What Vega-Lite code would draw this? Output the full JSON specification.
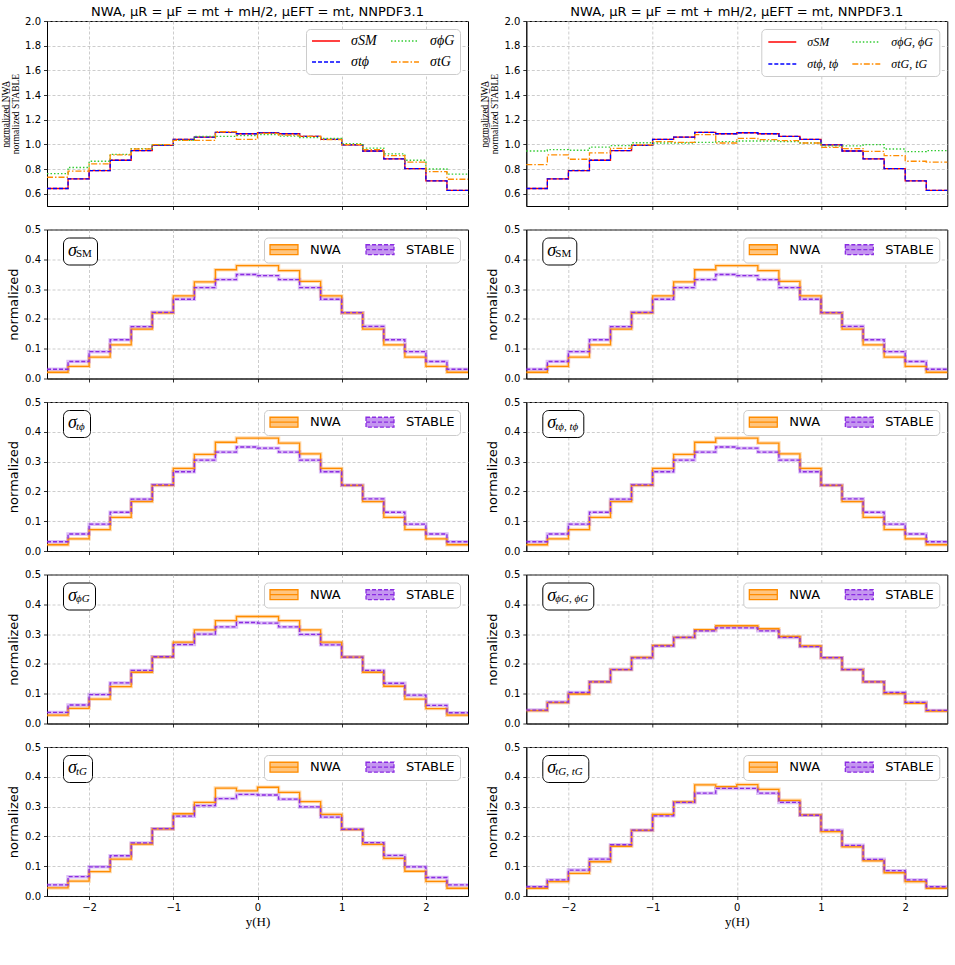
{
  "$schema": "https://vega.github.io/schema/vega-lite/v6.json",
  "background": "white",
  "padding": {"left": 0, "top": 5, "right": 5, "bottom": 5},
  "columns": 2,
  "spacing": {"row": 23.5, "column": 58.3},
  "bounds": "flush",
  "align": "each",
  "resolve": {"scale": {"color": "independent", "strokeDash": "independent", "fill": "independent", "shape": "independent", "x": "independent", "y": "independent"}},
  "config": {
    "font": "DejaVu Sans",
    "view": {"stroke": "#000000", "strokeWidth": 1},
    "axis": {
      "labelFont": "DejaVu Sans", "labelFontSize": 10, "labelColor": "#000000", "labelPadding": 3,
      "tickColor": "#000000", "tickSize": 3.5, "tickWidth": 0.8,
      "domainColor": "#000000", "domainWidth": 0.8,
      "gridColor": "#b0b0b0", "gridDash": [3, 2], "gridWidth": 0.8, "gridOpacity": 0.8,
      "titleFont": "DejaVu Sans", "titleFontSize": 13, "titleFontWeight": "normal", "titleColor": "#000000", "titlePadding": 4
    },
    "legend": {"labelColor": "#000000", "titleColor": "#000000", "labelLimit": 0},
    "title": {"font": "DejaVu Sans", "fontSize": 13, "fontWeight": "normal", "color": "#000000", "offset": -3}
  },
  "datasets": {
    "ratioL": [
      {"x": -2.5, "σSM": 0.642, "σtϕ": 0.642, "σϕG": 0.763, "σtG": 0.733},
      {"x": -2.25, "σSM": 0.720, "σtϕ": 0.720, "σϕG": 0.812, "σtG": 0.782},
      {"x": -2, "σSM": 0.787, "σtϕ": 0.787, "σϕG": 0.863, "σtG": 0.841},
      {"x": -1.75, "σSM": 0.871, "σtϕ": 0.871, "σϕG": 0.919, "σtG": 0.914},
      {"x": -1.5, "σSM": 0.949, "σtϕ": 0.949, "σϕG": 0.965, "σtG": 0.962},
      {"x": -1.25, "σSM": 0.992, "σtϕ": 0.992, "σϕG": 0.997, "σtG": 0.997},
      {"x": -1, "σSM": 1.040, "σtϕ": 1.040, "σϕG": 1.032, "σtG": 1.032},
      {"x": -0.75, "σSM": 1.059, "σtϕ": 1.059, "σϕG": 1.065, "σtG": 1.032},
      {"x": -0.5, "σSM": 1.097, "σtϕ": 1.097, "σϕG": 1.065, "σtG": 1.102},
      {"x": -0.25, "σSM": 1.086, "σtϕ": 1.086, "σϕG": 1.070, "σtG": 1.040},
      {"x": 0, "σSM": 1.094, "σtϕ": 1.094, "σϕG": 1.078, "σtG": 1.089},
      {"x": 0.25, "σSM": 1.086, "σtϕ": 1.086, "σϕG": 1.067, "σtG": 1.075},
      {"x": 0.5, "σSM": 1.065, "σtϕ": 1.065, "σϕG": 1.054, "σtG": 1.065},
      {"x": 0.75, "σSM": 1.040, "σtϕ": 1.040, "σϕG": 1.048, "σtG": 1.038},
      {"x": 1, "σSM": 0.995, "σtϕ": 0.995, "σϕG": 1.005, "σtG": 0.997},
      {"x": 1.25, "σSM": 0.946, "σtϕ": 0.946, "σϕG": 0.970, "σtG": 0.957},
      {"x": 1.5, "σSM": 0.882, "σtϕ": 0.882, "σϕG": 0.922, "σtG": 0.908},
      {"x": 1.75, "σSM": 0.803, "σtϕ": 0.803, "σϕG": 0.871, "σtG": 0.855},
      {"x": 2, "σSM": 0.704, "σtϕ": 0.704, "σϕG": 0.800, "σtG": 0.779},
      {"x": 2.25, "σSM": 0.626, "σtϕ": 0.626, "σϕG": 0.758, "σtG": 0.717},
      {"x": 2.5, "σSM": 0.626, "σtϕ": 0.626, "σϕG": 0.758, "σtG": 0.717}
    ],
    "ratioR": [
      {"x": -2.5, "σSM": 0.642, "σtϕ, tϕ": 0.642, "σϕG, ϕG": 0.946, "σtG, tG": 0.836},
      {"x": -2.25, "σSM": 0.720, "σtϕ, tϕ": 0.720, "σϕG, ϕG": 0.957, "σtG, tG": 0.914},
      {"x": -2, "σSM": 0.787, "σtϕ, tϕ": 0.787, "σϕG, ϕG": 0.952, "σtG, tG": 0.879},
      {"x": -1.75, "σSM": 0.871, "σtϕ, tϕ": 0.871, "σϕG, ϕG": 0.978, "σtG, tG": 0.930},
      {"x": -1.5, "σSM": 0.949, "σtϕ, tϕ": 0.949, "σϕG, ϕG": 0.989, "σtG, tG": 0.968},
      {"x": -1.25, "σSM": 0.992, "σtϕ, tϕ": 0.992, "σϕG, ϕG": 1.013, "σtG, tG": 0.995},
      {"x": -1, "σSM": 1.040, "σtϕ, tϕ": 1.040, "σϕG, ϕG": 1.011, "σtG, tG": 1.022},
      {"x": -0.75, "σSM": 1.059, "σtϕ, tϕ": 1.059, "σϕG, ϕG": 1.011, "σtG, tG": 1.016},
      {"x": -0.5, "σSM": 1.097, "σtϕ, tϕ": 1.097, "σϕG, ϕG": 1.016, "σtG, tG": 1.078},
      {"x": -0.25, "σSM": 1.086, "σtϕ, tϕ": 1.086, "σϕG, ϕG": 1.022, "σtG, tG": 1.011},
      {"x": 0, "σSM": 1.094, "σtϕ, tϕ": 1.094, "σϕG, ϕG": 1.027, "σtG, tG": 1.048},
      {"x": 0.25, "σSM": 1.086, "σtϕ, tϕ": 1.086, "σϕG, ϕG": 1.027, "σtG, tG": 1.038},
      {"x": 0.5, "σSM": 1.065, "σtϕ, tϕ": 1.065, "σϕG, ϕG": 1.022, "σtG, tG": 1.030},
      {"x": 0.75, "σSM": 1.040, "σtϕ, tϕ": 1.040, "σϕG, ϕG": 1.011, "σtG, tG": 1.011},
      {"x": 1, "σSM": 0.995, "σtϕ, tϕ": 0.995, "σϕG, ϕG": 0.987, "σtG, tG": 0.976},
      {"x": 1.25, "σSM": 0.946, "σtϕ, tϕ": 0.946, "σϕG, ϕG": 0.987, "σtG, tG": 0.965},
      {"x": 1.5, "σSM": 0.882, "σtϕ, tϕ": 0.882, "σϕG, ϕG": 0.997, "σtG, tG": 0.943},
      {"x": 1.75, "σSM": 0.803, "σtϕ, tϕ": 0.803, "σϕG, ϕG": 0.962, "σtG, tG": 0.908},
      {"x": 2, "σSM": 0.704, "σtϕ, tϕ": 0.704, "σϕG, ϕG": 0.941, "σtG, tG": 0.863},
      {"x": 2.25, "σSM": 0.626, "σtϕ, tϕ": 0.626, "σϕG, ϕG": 0.949, "σtG, tG": 0.855},
      {"x": 2.5, "σSM": 0.626, "σtϕ, tϕ": 0.626, "σϕG, ϕG": 0.949, "σtG, tG": 0.855}
    ],
    "dist": [
      {"p": "SM", "x": -2.5, "NWA": 0.021, "STABLE": 0.031},
      {"p": "SM", "x": -2.25, "NWA": 0.041, "STABLE": 0.057},
      {"p": "SM", "x": -2, "NWA": 0.072, "STABLE": 0.090},
      {"p": "SM", "x": -1.75, "NWA": 0.113, "STABLE": 0.130},
      {"p": "SM", "x": -1.5, "NWA": 0.166, "STABLE": 0.174},
      {"p": "SM", "x": -1.25, "NWA": 0.220, "STABLE": 0.222},
      {"p": "SM", "x": -1, "NWA": 0.277, "STABLE": 0.266},
      {"p": "SM", "x": -0.75, "NWA": 0.324, "STABLE": 0.305},
      {"p": "SM", "x": -0.5, "NWA": 0.365, "STABLE": 0.332},
      {"p": "SM", "x": -0.25, "NWA": 0.379, "STABLE": 0.349},
      {"p": "SM", "x": 0, "NWA": 0.379, "STABLE": 0.345},
      {"p": "SM", "x": 0.25, "NWA": 0.362, "STABLE": 0.332},
      {"p": "SM", "x": 0.5, "NWA": 0.326, "STABLE": 0.305},
      {"p": "SM", "x": 0.75, "NWA": 0.277, "STABLE": 0.266},
      {"p": "SM", "x": 1, "NWA": 0.220, "STABLE": 0.221},
      {"p": "SM", "x": 1.25, "NWA": 0.166, "STABLE": 0.175},
      {"p": "SM", "x": 1.5, "NWA": 0.113, "STABLE": 0.130},
      {"p": "SM", "x": 1.75, "NWA": 0.072, "STABLE": 0.090},
      {"p": "SM", "x": 2, "NWA": 0.041, "STABLE": 0.057},
      {"p": "SM", "x": 2.25, "NWA": 0.021, "STABLE": 0.031},
      {"p": "SM", "x": 2.5, "NWA": 0.021, "STABLE": 0.031},

      {"p": "tϕ", "x": -2.5, "NWA": 0.021, "STABLE": 0.031},
      {"p": "tϕ", "x": -2.25, "NWA": 0.041, "STABLE": 0.057},
      {"p": "tϕ", "x": -2, "NWA": 0.072, "STABLE": 0.090},
      {"p": "tϕ", "x": -1.75, "NWA": 0.113, "STABLE": 0.130},
      {"p": "tϕ", "x": -1.5, "NWA": 0.166, "STABLE": 0.174},
      {"p": "tϕ", "x": -1.25, "NWA": 0.220, "STABLE": 0.222},
      {"p": "tϕ", "x": -1, "NWA": 0.277, "STABLE": 0.266},
      {"p": "tϕ", "x": -0.75, "NWA": 0.324, "STABLE": 0.305},
      {"p": "tϕ", "x": -0.5, "NWA": 0.365, "STABLE": 0.332},
      {"p": "tϕ", "x": -0.25, "NWA": 0.379, "STABLE": 0.349},
      {"p": "tϕ", "x": 0, "NWA": 0.379, "STABLE": 0.345},
      {"p": "tϕ", "x": 0.25, "NWA": 0.362, "STABLE": 0.332},
      {"p": "tϕ", "x": 0.5, "NWA": 0.326, "STABLE": 0.305},
      {"p": "tϕ", "x": 0.75, "NWA": 0.277, "STABLE": 0.266},
      {"p": "tϕ", "x": 1, "NWA": 0.220, "STABLE": 0.221},
      {"p": "tϕ", "x": 1.25, "NWA": 0.166, "STABLE": 0.175},
      {"p": "tϕ", "x": 1.5, "NWA": 0.113, "STABLE": 0.130},
      {"p": "tϕ", "x": 1.75, "NWA": 0.072, "STABLE": 0.090},
      {"p": "tϕ", "x": 2, "NWA": 0.041, "STABLE": 0.057},
      {"p": "tϕ", "x": 2.25, "NWA": 0.021, "STABLE": 0.031},
      {"p": "tϕ", "x": 2.5, "NWA": 0.021, "STABLE": 0.031},

      {"p": "tϕ, tϕ", "x": -2.5, "NWA": 0.021, "STABLE": 0.031},
      {"p": "tϕ, tϕ", "x": -2.25, "NWA": 0.041, "STABLE": 0.057},
      {"p": "tϕ, tϕ", "x": -2, "NWA": 0.072, "STABLE": 0.090},
      {"p": "tϕ, tϕ", "x": -1.75, "NWA": 0.113, "STABLE": 0.130},
      {"p": "tϕ, tϕ", "x": -1.5, "NWA": 0.166, "STABLE": 0.174},
      {"p": "tϕ, tϕ", "x": -1.25, "NWA": 0.220, "STABLE": 0.222},
      {"p": "tϕ, tϕ", "x": -1, "NWA": 0.277, "STABLE": 0.266},
      {"p": "tϕ, tϕ", "x": -0.75, "NWA": 0.324, "STABLE": 0.305},
      {"p": "tϕ, tϕ", "x": -0.5, "NWA": 0.365, "STABLE": 0.332},
      {"p": "tϕ, tϕ", "x": -0.25, "NWA": 0.379, "STABLE": 0.349},
      {"p": "tϕ, tϕ", "x": 0, "NWA": 0.379, "STABLE": 0.345},
      {"p": "tϕ, tϕ", "x": 0.25, "NWA": 0.362, "STABLE": 0.332},
      {"p": "tϕ, tϕ", "x": 0.5, "NWA": 0.326, "STABLE": 0.305},
      {"p": "tϕ, tϕ", "x": 0.75, "NWA": 0.277, "STABLE": 0.266},
      {"p": "tϕ, tϕ", "x": 1, "NWA": 0.220, "STABLE": 0.221},
      {"p": "tϕ, tϕ", "x": 1.25, "NWA": 0.166, "STABLE": 0.175},
      {"p": "tϕ, tϕ", "x": 1.5, "NWA": 0.113, "STABLE": 0.130},
      {"p": "tϕ, tϕ", "x": 1.75, "NWA": 0.072, "STABLE": 0.090},
      {"p": "tϕ, tϕ", "x": 2, "NWA": 0.041, "STABLE": 0.057},
      {"p": "tϕ, tϕ", "x": 2.25, "NWA": 0.021, "STABLE": 0.031},
      {"p": "tϕ, tϕ", "x": 2.5, "NWA": 0.021, "STABLE": 0.031},

      {"p": "ϕG", "x": -2.5, "NWA": 0.028, "STABLE": 0.037},
      {"p": "ϕG", "x": -2.25, "NWA": 0.051, "STABLE": 0.062},
      {"p": "ϕG", "x": -2, "NWA": 0.082, "STABLE": 0.097},
      {"p": "ϕG", "x": -1.75, "NWA": 0.124, "STABLE": 0.136},
      {"p": "ϕG", "x": -1.5, "NWA": 0.172, "STABLE": 0.178},
      {"p": "ϕG", "x": -1.25, "NWA": 0.223, "STABLE": 0.224},
      {"p": "ϕG", "x": -1, "NWA": 0.273, "STABLE": 0.265},
      {"p": "ϕG", "x": -0.75, "NWA": 0.314, "STABLE": 0.300},
      {"p": "ϕG", "x": -0.5, "NWA": 0.345, "STABLE": 0.324},
      {"p": "ϕG", "x": -0.25, "NWA": 0.359, "STABLE": 0.339},
      {"p": "ϕG", "x": 0, "NWA": 0.359, "STABLE": 0.337},
      {"p": "ϕG", "x": 0.25, "NWA": 0.345, "STABLE": 0.324},
      {"p": "ϕG", "x": 0.5, "NWA": 0.314, "STABLE": 0.299},
      {"p": "ϕG", "x": 0.75, "NWA": 0.273, "STABLE": 0.264},
      {"p": "ϕG", "x": 1, "NWA": 0.223, "STABLE": 0.223},
      {"p": "ϕG", "x": 1.25, "NWA": 0.172, "STABLE": 0.178},
      {"p": "ϕG", "x": 1.5, "NWA": 0.125, "STABLE": 0.135},
      {"p": "ϕG", "x": 1.75, "NWA": 0.082, "STABLE": 0.095},
      {"p": "ϕG", "x": 2, "NWA": 0.050, "STABLE": 0.061},
      {"p": "ϕG", "x": 2.25, "NWA": 0.028, "STABLE": 0.036},
      {"p": "ϕG", "x": 2.5, "NWA": 0.028, "STABLE": 0.036},

      {"p": "ϕG, ϕG", "x": -2.5, "NWA": 0.043, "STABLE": 0.045},
      {"p": "ϕG, ϕG", "x": -2.25, "NWA": 0.070, "STABLE": 0.072},
      {"p": "ϕG, ϕG", "x": -2, "NWA": 0.099, "STABLE": 0.104},
      {"p": "ϕG, ϕG", "x": -1.75, "NWA": 0.140, "STABLE": 0.140},
      {"p": "ϕG, ϕG", "x": -1.5, "NWA": 0.181, "STABLE": 0.181},
      {"p": "ϕG, ϕG", "x": -1.25, "NWA": 0.222, "STABLE": 0.220},
      {"p": "ϕG, ϕG", "x": -1, "NWA": 0.262, "STABLE": 0.260},
      {"p": "ϕG, ϕG", "x": -0.75, "NWA": 0.289, "STABLE": 0.289},
      {"p": "ϕG, ϕG", "x": -0.5, "NWA": 0.315, "STABLE": 0.311},
      {"p": "ϕG, ϕG", "x": -0.25, "NWA": 0.328, "STABLE": 0.321},
      {"p": "ϕG, ϕG", "x": 0, "NWA": 0.328, "STABLE": 0.321},
      {"p": "ϕG, ϕG", "x": 0.25, "NWA": 0.318, "STABLE": 0.311},
      {"p": "ϕG, ϕG", "x": 0.5, "NWA": 0.292, "STABLE": 0.289},
      {"p": "ϕG, ϕG", "x": 0.75, "NWA": 0.260, "STABLE": 0.258},
      {"p": "ϕG, ϕG", "x": 1, "NWA": 0.221, "STABLE": 0.221},
      {"p": "ϕG, ϕG", "x": 1.25, "NWA": 0.181, "STABLE": 0.181},
      {"p": "ϕG, ϕG", "x": 1.5, "NWA": 0.140, "STABLE": 0.140},
      {"p": "ϕG, ϕG", "x": 1.75, "NWA": 0.100, "STABLE": 0.104},
      {"p": "ϕG, ϕG", "x": 2, "NWA": 0.068, "STABLE": 0.071},
      {"p": "ϕG, ϕG", "x": 2.25, "NWA": 0.042, "STABLE": 0.044},
      {"p": "ϕG, ϕG", "x": 2.5, "NWA": 0.042, "STABLE": 0.044},

      {"p": "tG", "x": -2.5, "NWA": 0.027, "STABLE": 0.037},
      {"p": "tG", "x": -2.25, "NWA": 0.050, "STABLE": 0.065},
      {"p": "tG", "x": -2, "NWA": 0.082, "STABLE": 0.098},
      {"p": "tG", "x": -1.75, "NWA": 0.124, "STABLE": 0.135},
      {"p": "tG", "x": -1.5, "NWA": 0.174, "STABLE": 0.178},
      {"p": "tG", "x": -1.25, "NWA": 0.225, "STABLE": 0.226},
      {"p": "tG", "x": -1, "NWA": 0.276, "STABLE": 0.268},
      {"p": "tG", "x": -0.75, "NWA": 0.314, "STABLE": 0.303},
      {"p": "tG", "x": -0.5, "NWA": 0.362, "STABLE": 0.327},
      {"p": "tG", "x": -0.25, "NWA": 0.353, "STABLE": 0.341},
      {"p": "tG", "x": 0, "NWA": 0.365, "STABLE": 0.339},
      {"p": "tG", "x": 0.25, "NWA": 0.348, "STABLE": 0.325},
      {"p": "tG", "x": 0.5, "NWA": 0.317, "STABLE": 0.299},
      {"p": "tG", "x": 0.75, "NWA": 0.274, "STABLE": 0.265},
      {"p": "tG", "x": 1, "NWA": 0.223, "STABLE": 0.224},
      {"p": "tG", "x": 1.25, "NWA": 0.173, "STABLE": 0.179},
      {"p": "tG", "x": 1.5, "NWA": 0.126, "STABLE": 0.136},
      {"p": "tG", "x": 1.75, "NWA": 0.083, "STABLE": 0.098},
      {"p": "tG", "x": 2, "NWA": 0.049, "STABLE": 0.062},
      {"p": "tG", "x": 2.25, "NWA": 0.026, "STABLE": 0.037},
      {"p": "tG", "x": 2.5, "NWA": 0.026, "STABLE": 0.037},

      {"p": "tG, tG", "x": -2.5, "NWA": 0.026, "STABLE": 0.031},
      {"p": "tG, tG", "x": -2.25, "NWA": 0.048, "STABLE": 0.054},
      {"p": "tG, tG", "x": -2, "NWA": 0.076, "STABLE": 0.087},
      {"p": "tG, tG", "x": -1.75, "NWA": 0.115, "STABLE": 0.124},
      {"p": "tG, tG", "x": -1.5, "NWA": 0.167, "STABLE": 0.172},
      {"p": "tG, tG", "x": -1.25, "NWA": 0.220, "STABLE": 0.221},
      {"p": "tG, tG", "x": -1, "NWA": 0.274, "STABLE": 0.269},
      {"p": "tG, tG", "x": -0.75, "NWA": 0.316, "STABLE": 0.314},
      {"p": "tG, tG", "x": -0.5, "NWA": 0.373, "STABLE": 0.345},
      {"p": "tG, tG", "x": -0.25, "NWA": 0.367, "STABLE": 0.361},
      {"p": "tG, tG", "x": 0, "NWA": 0.374, "STABLE": 0.361},
      {"p": "tG, tG", "x": 0.25, "NWA": 0.358, "STABLE": 0.345},
      {"p": "tG, tG", "x": 0.5, "NWA": 0.321, "STABLE": 0.314},
      {"p": "tG, tG", "x": 0.75, "NWA": 0.272, "STABLE": 0.271},
      {"p": "tG, tG", "x": 1, "NWA": 0.216, "STABLE": 0.221},
      {"p": "tG, tG", "x": 1.25, "NWA": 0.165, "STABLE": 0.170},
      {"p": "tG, tG", "x": 1.5, "NWA": 0.118, "STABLE": 0.123},
      {"p": "tG, tG", "x": 1.75, "NWA": 0.078, "STABLE": 0.085},
      {"p": "tG, tG", "x": 2, "NWA": 0.048, "STABLE": 0.054},
      {"p": "tG, tG", "x": 2.25, "NWA": 0.026, "STABLE": 0.031},
      {"p": "tG, tG", "x": 2.5, "NWA": 0.026, "STABLE": 0.031}
    ]
  },
  "concat": [
    {
      "width": 421, "height": 185,
      "title": "NWA, μR = μF = mt + mH/2, μEFT = mt, NNPDF3.1",
      "data": {"name": "ratioL"},
      "transform": [{"fold": ["σSM", "σtϕ", "σϕG", "σtG"], "as": ["proc", "r"]}],
      "encoding": {
        "x": {"field": "x", "type": "quantitative", "scale": {"domain": [-2.5, 2.5], "nice": false, "zero": false}, "axis": {"values": [-2, -1, 0, 1, 2], "labels": false, "title": null}},
        "y": {"field": "r", "type": "quantitative", "scale": {"domain": [0.5, 2.0], "nice": false, "zero": false}, "axis": {"values": [0.6, 0.8, 1.0, 1.2, 1.4, 1.6, 1.8, 2.0], "format": ".1f", "title": ["n\u0332o\u0332r\u0332m\u0332a\u0332l\u0332i\u0332z\u0332e\u0332d\u0332 \u0332N\u0332W\u0332A\u0332", "normalized STABLE"], "titleFont": "Liberation Serif", "titleFontSize": 9.5, "titleLineHeight": 10}},
        "color": {"field": "proc", "type": "nominal", "scale": {"domain": ["σSM", "σtϕ", "σϕG", "σtG"], "range": ["#ff0000", "#0000ff", "#33cc33", "#ff8c00"]},
          "legend": {"orient": "top-right", "offset": 8, "title": null, "columns": 2, "symbolType": "M-2.33,0H2.33", "symbolSize": 144, "symbolOffset": 8, "symbolStrokeWidth": 1.5, "labelFont": "Liberation Serif", "labelFontStyle": "italic", "labelFontSize": 14, "labelOffset": 18, "rowPadding": 7, "columnPadding": 11, "padding": 5, "strokeColor": "#cccccc", "fillColor": "#ffffff", "cornerRadius": 4}},
        "strokeDash": {"field": "proc", "type": "nominal", "scale": {"domain": ["σSM", "σtϕ", "σϕG", "σtG"], "range": [[1, 0], [4, 2], [1.5, 2], [6, 2, 1.5, 2]]}}
      },
      "layer": [
        {"transform": [{"filter": "datum.proc === 'σSM'"}], "mark": {"type": "line", "interpolate": "step-after", "strokeWidth": 1.3}},
        {"transform": [{"filter": "datum.proc === 'σtϕ'"}], "mark": {"type": "line", "interpolate": "step-after", "strokeWidth": 1.3}},
        {"transform": [{"filter": "datum.proc === 'σϕG'"}], "mark": {"type": "line", "interpolate": "step-after", "strokeWidth": 1.3}},
        {"transform": [{"filter": "datum.proc === 'σtG'"}], "mark": {"type": "line", "interpolate": "step-after", "strokeWidth": 1.3}}
      ]
    },
    {
      "width": 421, "height": 185,
      "title": "NWA, μR = μF = mt + mH/2, μEFT = mt, NNPDF3.1",
      "data": {"name": "ratioR"},
      "transform": [{"fold": ["σSM", "σtϕ, tϕ", "σϕG, ϕG", "σtG, tG"], "as": ["proc", "r"]}],
      "encoding": {
        "x": {"field": "x", "type": "quantitative", "scale": {"domain": [-2.5, 2.5], "nice": false, "zero": false}, "axis": {"values": [-2, -1, 0, 1, 2], "labels": false, "title": null}},
        "y": {"field": "r", "type": "quantitative", "scale": {"domain": [0.5, 2.0], "nice": false, "zero": false}, "axis": {"values": [0.6, 0.8, 1.0, 1.2, 1.4, 1.6, 1.8, 2.0], "format": ".1f", "title": ["n\u0332o\u0332r\u0332m\u0332a\u0332l\u0332i\u0332z\u0332e\u0332d\u0332 \u0332N\u0332W\u0332A\u0332", "normalized STABLE"], "titleFont": "Liberation Serif", "titleFontSize": 9.5, "titleLineHeight": 10}},
        "color": {"field": "proc", "type": "nominal", "scale": {"domain": ["σSM", "σtϕ, tϕ", "σϕG, ϕG", "σtG, tG"], "range": ["#ff0000", "#0000ff", "#33cc33", "#ff8c00"]},
          "legend": {"orient": "top-right", "offset": 8, "title": null, "columns": 2, "symbolType": "M-2.33,0H2.33", "symbolSize": 144, "symbolOffset": 8, "symbolStrokeWidth": 1.5, "labelFont": "Liberation Serif", "labelFontStyle": "italic", "labelFontSize": 12, "labelOffset": 18, "rowPadding": 9, "columnPadding": 10, "padding": 6, "strokeColor": "#cccccc", "fillColor": "#ffffff", "cornerRadius": 4}},
        "strokeDash": {"field": "proc", "type": "nominal", "scale": {"domain": ["σSM", "σtϕ, tϕ", "σϕG, ϕG", "σtG, tG"], "range": [[1, 0], [4, 2], [1.5, 2], [6, 2, 1.5, 2]]}}
      },
      "layer": [
        {"transform": [{"filter": "datum.proc === 'σSM'"}], "mark": {"type": "line", "interpolate": "step-after", "strokeWidth": 1.3}},
        {"transform": [{"filter": "datum.proc === 'σtϕ, tϕ'"}], "mark": {"type": "line", "interpolate": "step-after", "strokeWidth": 1.3}},
        {"transform": [{"filter": "datum.proc === 'σϕG, ϕG'"}], "mark": {"type": "line", "interpolate": "step-after", "strokeWidth": 1.3}},
        {"transform": [{"filter": "datum.proc === 'σtG, tG'"}], "mark": {"type": "line", "interpolate": "step-after", "strokeWidth": 1.3}}
      ]
    },
    {
      "width": 421, "height": 149,
      "data": {"name": "dist"},
      "transform": [{"filter": "datum.p === 'SM'"}, {"fold": ["NWA", "STABLE"], "as": ["src", "y"]}],
      "encoding": {
        "x": {"field": "x", "type": "quantitative", "scale": {"domain": [-2.5, 2.5], "nice": false, "zero": false}, "axis": {"values": [-2, -1, 0, 1, 2], "labels": false, "title": null}},
        "y": {"field": "y", "type": "quantitative", "scale": {"domain": [0, 0.5], "nice": false}, "axis": {"values": [0, 0.1, 0.2, 0.3, 0.4, 0.5], "format": ".1f", "title": "normalized"}},
        "color": {"field": "src", "type": "nominal", "scale": {"domain": ["NWA", "STABLE"], "range": ["#ff8c00", "#8a2be2"]},
          "legend": {"orient": "top-right", "offset": 8, "title": null, "direction": "horizontal", "symbolType": "M-2.33,-0.83H2.33V0.83H-2.33Z M-2.33,0H2.33", "symbolSize": 144, "symbolOffset": 8, "symbolStrokeWidth": 1.3, "symbolOpacity": 1, "labelFont": "DejaVu Sans", "labelFontSize": 13, "labelOffset": 19, "columnPadding": 22, "padding": 5, "strokeColor": "#cccccc", "fillColor": "#ffffff", "cornerRadius": 4}}
      },
      "layer": [
        {"mark": {"type": "line", "interpolate": "step-after", "strokeWidth": 3.5, "opacity": 0.3}},
        {"mark": {"type": "line", "interpolate": "step-after", "strokeWidth": 1.3},
          "encoding": {"strokeDash": {"field": "src", "type": "nominal", "scale": {"domain": ["NWA", "STABLE"], "range": [[1, 0], [4, 2]]}}}},
        {"mark": {"type": "point", "opacity": 0, "filled": false},
          "encoding": {
            "fill": {"field": "src", "type": "nominal", "scale": {"domain": ["NWA", "STABLE"], "range": ["rgba(255,140,0,0.5)", "rgba(138,43,226,0.5)"]},
              "legend": {"orient": "top-right", "offset": 8, "title": null, "direction": "horizontal", "symbolType": "M-2.33,-0.83H2.33V0.83H-2.33Z M-2.33,0H2.33", "symbolSize": 144, "symbolOffset": 8, "symbolStrokeWidth": 1.3, "symbolOpacity": 1, "labelFont": "DejaVu Sans", "labelFontSize": 13, "labelOffset": 19, "columnPadding": 22, "padding": 5, "strokeColor": "#cccccc", "fillColor": "#ffffff", "cornerRadius": 4}},
            "shape": {"field": "p", "type": "nominal",
              "legend": {"orient": "none", "legendX": 16, "legendY": 8, "title": "σ", "titleOrient": "left", "titleFont": "Liberation Serif", "titleFontStyle": "italic", "titleFontWeight": "normal", "titleFontSize": 18, "titlePadding": 0, "titleBaseline": "middle", "titleAnchor": "middle", "labelFont": "Liberation Serif", "labelFontSize": 11, "labelFontStyle": "normal", "labelBaseline": "top", "labelOffset": -12, "symbolSize": 0, "symbolOpacity": 0, "symbolStrokeWidth": 0, "strokeColor": "#000000", "cornerRadius": 6, "padding": 5, "fillColor": "#ffffff"}}
          }}
      ]
    },
    {
      "width": 421, "height": 149,
      "data": {"name": "dist"},
      "transform": [{"filter": "datum.p === 'SM'"}, {"fold": ["NWA", "STABLE"], "as": ["src", "y"]}],
      "encoding": {
        "x": {"field": "x", "type": "quantitative", "scale": {"domain": [-2.5, 2.5], "nice": false, "zero": false}, "axis": {"values": [-2, -1, 0, 1, 2], "labels": false, "title": null}},
        "y": {"field": "y", "type": "quantitative", "scale": {"domain": [0, 0.5], "nice": false}, "axis": {"values": [0, 0.1, 0.2, 0.3, 0.4, 0.5], "format": ".1f", "title": "normalized"}},
        "color": {"field": "src", "type": "nominal", "scale": {"domain": ["NWA", "STABLE"], "range": ["#ff8c00", "#8a2be2"]},
          "legend": {"orient": "top-right", "offset": 8, "title": null, "direction": "horizontal", "symbolType": "M-2.33,-0.83H2.33V0.83H-2.33Z M-2.33,0H2.33", "symbolSize": 144, "symbolOffset": 8, "symbolStrokeWidth": 1.3, "symbolOpacity": 1, "labelFont": "DejaVu Sans", "labelFontSize": 13, "labelOffset": 19, "columnPadding": 22, "padding": 5, "strokeColor": "#cccccc", "fillColor": "#ffffff", "cornerRadius": 4}}
      },
      "layer": [
        {"mark": {"type": "line", "interpolate": "step-after", "strokeWidth": 3.5, "opacity": 0.3}},
        {"mark": {"type": "line", "interpolate": "step-after", "strokeWidth": 1.3},
          "encoding": {"strokeDash": {"field": "src", "type": "nominal", "scale": {"domain": ["NWA", "STABLE"], "range": [[1, 0], [4, 2]]}}}},
        {"mark": {"type": "point", "opacity": 0, "filled": false},
          "encoding": {
            "fill": {"field": "src", "type": "nominal", "scale": {"domain": ["NWA", "STABLE"], "range": ["rgba(255,140,0,0.5)", "rgba(138,43,226,0.5)"]},
              "legend": {"orient": "top-right", "offset": 8, "title": null, "direction": "horizontal", "symbolType": "M-2.33,-0.83H2.33V0.83H-2.33Z M-2.33,0H2.33", "symbolSize": 144, "symbolOffset": 8, "symbolStrokeWidth": 1.3, "symbolOpacity": 1, "labelFont": "DejaVu Sans", "labelFontSize": 13, "labelOffset": 19, "columnPadding": 22, "padding": 5, "strokeColor": "#cccccc", "fillColor": "#ffffff", "cornerRadius": 4}},
            "shape": {"field": "p", "type": "nominal",
              "legend": {"orient": "none", "legendX": 16, "legendY": 8, "title": "σ", "titleOrient": "left", "titleFont": "Liberation Serif", "titleFontStyle": "italic", "titleFontWeight": "normal", "titleFontSize": 18, "titlePadding": 0, "titleBaseline": "middle", "titleAnchor": "middle", "labelFont": "Liberation Serif", "labelFontSize": 11, "labelFontStyle": "normal", "labelBaseline": "top", "labelOffset": -12, "symbolSize": 0, "symbolOpacity": 0, "symbolStrokeWidth": 0, "strokeColor": "#000000", "cornerRadius": 6, "padding": 5, "fillColor": "#ffffff"}}
          }}
      ]
    },
    {
      "width": 421, "height": 149,
      "data": {"name": "dist"},
      "transform": [{"filter": "datum.p === 'tϕ'"}, {"fold": ["NWA", "STABLE"], "as": ["src", "y"]}],
      "encoding": {
        "x": {"field": "x", "type": "quantitative", "scale": {"domain": [-2.5, 2.5], "nice": false, "zero": false}, "axis": {"values": [-2, -1, 0, 1, 2], "labels": false, "title": null}},
        "y": {"field": "y", "type": "quantitative", "scale": {"domain": [0, 0.5], "nice": false}, "axis": {"values": [0, 0.1, 0.2, 0.3, 0.4, 0.5], "format": ".1f", "title": "normalized"}},
        "color": {"field": "src", "type": "nominal", "scale": {"domain": ["NWA", "STABLE"], "range": ["#ff8c00", "#8a2be2"]},
          "legend": {"orient": "top-right", "offset": 8, "title": null, "direction": "horizontal", "symbolType": "M-2.33,-0.83H2.33V0.83H-2.33Z M-2.33,0H2.33", "symbolSize": 144, "symbolOffset": 8, "symbolStrokeWidth": 1.3, "symbolOpacity": 1, "labelFont": "DejaVu Sans", "labelFontSize": 13, "labelOffset": 19, "columnPadding": 22, "padding": 5, "strokeColor": "#cccccc", "fillColor": "#ffffff", "cornerRadius": 4}}
      },
      "layer": [
        {"mark": {"type": "line", "interpolate": "step-after", "strokeWidth": 3.5, "opacity": 0.3}},
        {"mark": {"type": "line", "interpolate": "step-after", "strokeWidth": 1.3},
          "encoding": {"strokeDash": {"field": "src", "type": "nominal", "scale": {"domain": ["NWA", "STABLE"], "range": [[1, 0], [4, 2]]}}}},
        {"mark": {"type": "point", "opacity": 0, "filled": false},
          "encoding": {
            "fill": {"field": "src", "type": "nominal", "scale": {"domain": ["NWA", "STABLE"], "range": ["rgba(255,140,0,0.5)", "rgba(138,43,226,0.5)"]},
              "legend": {"orient": "top-right", "offset": 8, "title": null, "direction": "horizontal", "symbolType": "M-2.33,-0.83H2.33V0.83H-2.33Z M-2.33,0H2.33", "symbolSize": 144, "symbolOffset": 8, "symbolStrokeWidth": 1.3, "symbolOpacity": 1, "labelFont": "DejaVu Sans", "labelFontSize": 13, "labelOffset": 19, "columnPadding": 22, "padding": 5, "strokeColor": "#cccccc", "fillColor": "#ffffff", "cornerRadius": 4}},
            "shape": {"field": "p", "type": "nominal",
              "legend": {"orient": "none", "legendX": 16, "legendY": 8, "title": "σ", "titleOrient": "left", "titleFont": "Liberation Serif", "titleFontStyle": "italic", "titleFontWeight": "normal", "titleFontSize": 18, "titlePadding": 0, "titleBaseline": "middle", "titleAnchor": "middle", "labelFont": "Liberation Serif", "labelFontSize": 11, "labelFontStyle": "italic", "labelBaseline": "top", "labelOffset": -12, "symbolSize": 0, "symbolOpacity": 0, "symbolStrokeWidth": 0, "strokeColor": "#000000", "cornerRadius": 6, "padding": 5, "fillColor": "#ffffff"}}
          }}
      ]
    },
    {
      "width": 421, "height": 149,
      "data": {"name": "dist"},
      "transform": [{"filter": "datum.p === 'tϕ, tϕ'"}, {"fold": ["NWA", "STABLE"], "as": ["src", "y"]}],
      "encoding": {
        "x": {"field": "x", "type": "quantitative", "scale": {"domain": [-2.5, 2.5], "nice": false, "zero": false}, "axis": {"values": [-2, -1, 0, 1, 2], "labels": false, "title": null}},
        "y": {"field": "y", "type": "quantitative", "scale": {"domain": [0, 0.5], "nice": false}, "axis": {"values": [0, 0.1, 0.2, 0.3, 0.4, 0.5], "format": ".1f", "title": "normalized"}},
        "color": {"field": "src", "type": "nominal", "scale": {"domain": ["NWA", "STABLE"], "range": ["#ff8c00", "#8a2be2"]},
          "legend": {"orient": "top-right", "offset": 8, "title": null, "direction": "horizontal", "symbolType": "M-2.33,-0.83H2.33V0.83H-2.33Z M-2.33,0H2.33", "symbolSize": 144, "symbolOffset": 8, "symbolStrokeWidth": 1.3, "symbolOpacity": 1, "labelFont": "DejaVu Sans", "labelFontSize": 13, "labelOffset": 19, "columnPadding": 22, "padding": 5, "strokeColor": "#cccccc", "fillColor": "#ffffff", "cornerRadius": 4}}
      },
      "layer": [
        {"mark": {"type": "line", "interpolate": "step-after", "strokeWidth": 3.5, "opacity": 0.3}},
        {"mark": {"type": "line", "interpolate": "step-after", "strokeWidth": 1.3},
          "encoding": {"strokeDash": {"field": "src", "type": "nominal", "scale": {"domain": ["NWA", "STABLE"], "range": [[1, 0], [4, 2]]}}}},
        {"mark": {"type": "point", "opacity": 0, "filled": false},
          "encoding": {
            "fill": {"field": "src", "type": "nominal", "scale": {"domain": ["NWA", "STABLE"], "range": ["rgba(255,140,0,0.5)", "rgba(138,43,226,0.5)"]},
              "legend": {"orient": "top-right", "offset": 8, "title": null, "direction": "horizontal", "symbolType": "M-2.33,-0.83H2.33V0.83H-2.33Z M-2.33,0H2.33", "symbolSize": 144, "symbolOffset": 8, "symbolStrokeWidth": 1.3, "symbolOpacity": 1, "labelFont": "DejaVu Sans", "labelFontSize": 13, "labelOffset": 19, "columnPadding": 22, "padding": 5, "strokeColor": "#cccccc", "fillColor": "#ffffff", "cornerRadius": 4}},
            "shape": {"field": "p", "type": "nominal",
              "legend": {"orient": "none", "legendX": 16, "legendY": 8, "title": "σ", "titleOrient": "left", "titleFont": "Liberation Serif", "titleFontStyle": "italic", "titleFontWeight": "normal", "titleFontSize": 18, "titlePadding": 0, "titleBaseline": "middle", "titleAnchor": "middle", "labelFont": "Liberation Serif", "labelFontSize": 11, "labelFontStyle": "italic", "labelBaseline": "top", "labelOffset": -12, "symbolSize": 0, "symbolOpacity": 0, "symbolStrokeWidth": 0, "strokeColor": "#000000", "cornerRadius": 6, "padding": 5, "fillColor": "#ffffff"}}
          }}
      ]
    },
    {
      "width": 421, "height": 149,
      "data": {"name": "dist"},
      "transform": [{"filter": "datum.p === 'ϕG'"}, {"fold": ["NWA", "STABLE"], "as": ["src", "y"]}],
      "encoding": {
        "x": {"field": "x", "type": "quantitative", "scale": {"domain": [-2.5, 2.5], "nice": false, "zero": false}, "axis": {"values": [-2, -1, 0, 1, 2], "labels": false, "title": null}},
        "y": {"field": "y", "type": "quantitative", "scale": {"domain": [0, 0.5], "nice": false}, "axis": {"values": [0, 0.1, 0.2, 0.3, 0.4, 0.5], "format": ".1f", "title": "normalized"}},
        "color": {"field": "src", "type": "nominal", "scale": {"domain": ["NWA", "STABLE"], "range": ["#ff8c00", "#8a2be2"]},
          "legend": {"orient": "top-right", "offset": 8, "title": null, "direction": "horizontal", "symbolType": "M-2.33,-0.83H2.33V0.83H-2.33Z M-2.33,0H2.33", "symbolSize": 144, "symbolOffset": 8, "symbolStrokeWidth": 1.3, "symbolOpacity": 1, "labelFont": "DejaVu Sans", "labelFontSize": 13, "labelOffset": 19, "columnPadding": 22, "padding": 5, "strokeColor": "#cccccc", "fillColor": "#ffffff", "cornerRadius": 4}}
      },
      "layer": [
        {"mark": {"type": "line", "interpolate": "step-after", "strokeWidth": 3.5, "opacity": 0.3}},
        {"mark": {"type": "line", "interpolate": "step-after", "strokeWidth": 1.3},
          "encoding": {"strokeDash": {"field": "src", "type": "nominal", "scale": {"domain": ["NWA", "STABLE"], "range": [[1, 0], [4, 2]]}}}},
        {"mark": {"type": "point", "opacity": 0, "filled": false},
          "encoding": {
            "fill": {"field": "src", "type": "nominal", "scale": {"domain": ["NWA", "STABLE"], "range": ["rgba(255,140,0,0.5)", "rgba(138,43,226,0.5)"]},
              "legend": {"orient": "top-right", "offset": 8, "title": null, "direction": "horizontal", "symbolType": "M-2.33,-0.83H2.33V0.83H-2.33Z M-2.33,0H2.33", "symbolSize": 144, "symbolOffset": 8, "symbolStrokeWidth": 1.3, "symbolOpacity": 1, "labelFont": "DejaVu Sans", "labelFontSize": 13, "labelOffset": 19, "columnPadding": 22, "padding": 5, "strokeColor": "#cccccc", "fillColor": "#ffffff", "cornerRadius": 4}},
            "shape": {"field": "p", "type": "nominal",
              "legend": {"orient": "none", "legendX": 16, "legendY": 8, "title": "σ", "titleOrient": "left", "titleFont": "Liberation Serif", "titleFontStyle": "italic", "titleFontWeight": "normal", "titleFontSize": 18, "titlePadding": 0, "titleBaseline": "middle", "titleAnchor": "middle", "labelFont": "Liberation Serif", "labelFontSize": 11, "labelFontStyle": "italic", "labelBaseline": "top", "labelOffset": -12, "symbolSize": 0, "symbolOpacity": 0, "symbolStrokeWidth": 0, "strokeColor": "#000000", "cornerRadius": 6, "padding": 5, "fillColor": "#ffffff"}}
          }}
      ]
    },
    {
      "width": 421, "height": 149,
      "data": {"name": "dist"},
      "transform": [{"filter": "datum.p === 'ϕG, ϕG'"}, {"fold": ["NWA", "STABLE"], "as": ["src", "y"]}],
      "encoding": {
        "x": {"field": "x", "type": "quantitative", "scale": {"domain": [-2.5, 2.5], "nice": false, "zero": false}, "axis": {"values": [-2, -1, 0, 1, 2], "labels": false, "title": null}},
        "y": {"field": "y", "type": "quantitative", "scale": {"domain": [0, 0.5], "nice": false}, "axis": {"values": [0, 0.1, 0.2, 0.3, 0.4, 0.5], "format": ".1f", "title": "normalized"}},
        "color": {"field": "src", "type": "nominal", "scale": {"domain": ["NWA", "STABLE"], "range": ["#ff8c00", "#8a2be2"]},
          "legend": {"orient": "top-right", "offset": 8, "title": null, "direction": "horizontal", "symbolType": "M-2.33,-0.83H2.33V0.83H-2.33Z M-2.33,0H2.33", "symbolSize": 144, "symbolOffset": 8, "symbolStrokeWidth": 1.3, "symbolOpacity": 1, "labelFont": "DejaVu Sans", "labelFontSize": 13, "labelOffset": 19, "columnPadding": 22, "padding": 5, "strokeColor": "#cccccc", "fillColor": "#ffffff", "cornerRadius": 4}}
      },
      "layer": [
        {"mark": {"type": "line", "interpolate": "step-after", "strokeWidth": 3.5, "opacity": 0.3}},
        {"mark": {"type": "line", "interpolate": "step-after", "strokeWidth": 1.3},
          "encoding": {"strokeDash": {"field": "src", "type": "nominal", "scale": {"domain": ["NWA", "STABLE"], "range": [[1, 0], [4, 2]]}}}},
        {"mark": {"type": "point", "opacity": 0, "filled": false},
          "encoding": {
            "fill": {"field": "src", "type": "nominal", "scale": {"domain": ["NWA", "STABLE"], "range": ["rgba(255,140,0,0.5)", "rgba(138,43,226,0.5)"]},
              "legend": {"orient": "top-right", "offset": 8, "title": null, "direction": "horizontal", "symbolType": "M-2.33,-0.83H2.33V0.83H-2.33Z M-2.33,0H2.33", "symbolSize": 144, "symbolOffset": 8, "symbolStrokeWidth": 1.3, "symbolOpacity": 1, "labelFont": "DejaVu Sans", "labelFontSize": 13, "labelOffset": 19, "columnPadding": 22, "padding": 5, "strokeColor": "#cccccc", "fillColor": "#ffffff", "cornerRadius": 4}},
            "shape": {"field": "p", "type": "nominal",
              "legend": {"orient": "none", "legendX": 16, "legendY": 8, "title": "σ", "titleOrient": "left", "titleFont": "Liberation Serif", "titleFontStyle": "italic", "titleFontWeight": "normal", "titleFontSize": 18, "titlePadding": 0, "titleBaseline": "middle", "titleAnchor": "middle", "labelFont": "Liberation Serif", "labelFontSize": 11, "labelFontStyle": "italic", "labelBaseline": "top", "labelOffset": -12, "symbolSize": 0, "symbolOpacity": 0, "symbolStrokeWidth": 0, "strokeColor": "#000000", "cornerRadius": 6, "padding": 5, "fillColor": "#ffffff"}}
          }}
      ]
    },
    {
      "width": 421, "height": 149,
      "data": {"name": "dist"},
      "transform": [{"filter": "datum.p === 'tG'"}, {"fold": ["NWA", "STABLE"], "as": ["src", "y"]}],
      "encoding": {
        "x": {"field": "x", "type": "quantitative", "scale": {"domain": [-2.5, 2.5], "nice": false, "zero": false}, "axis": {"values": [-2, -1, 0, 1, 2], "title": "y(H)", "titleFont": "Liberation Serif", "titleFontSize": 13, "titlePadding": 3}},
        "y": {"field": "y", "type": "quantitative", "scale": {"domain": [0, 0.5], "nice": false}, "axis": {"values": [0, 0.1, 0.2, 0.3, 0.4, 0.5], "format": ".1f", "title": "normalized"}},
        "color": {"field": "src", "type": "nominal", "scale": {"domain": ["NWA", "STABLE"], "range": ["#ff8c00", "#8a2be2"]},
          "legend": {"orient": "top-right", "offset": 8, "title": null, "direction": "horizontal", "symbolType": "M-2.33,-0.83H2.33V0.83H-2.33Z M-2.33,0H2.33", "symbolSize": 144, "symbolOffset": 8, "symbolStrokeWidth": 1.3, "symbolOpacity": 1, "labelFont": "DejaVu Sans", "labelFontSize": 13, "labelOffset": 19, "columnPadding": 22, "padding": 5, "strokeColor": "#cccccc", "fillColor": "#ffffff", "cornerRadius": 4}}
      },
      "layer": [
        {"mark": {"type": "line", "interpolate": "step-after", "strokeWidth": 3.5, "opacity": 0.3}},
        {"mark": {"type": "line", "interpolate": "step-after", "strokeWidth": 1.3},
          "encoding": {"strokeDash": {"field": "src", "type": "nominal", "scale": {"domain": ["NWA", "STABLE"], "range": [[1, 0], [4, 2]]}}}},
        {"mark": {"type": "point", "opacity": 0, "filled": false},
          "encoding": {
            "fill": {"field": "src", "type": "nominal", "scale": {"domain": ["NWA", "STABLE"], "range": ["rgba(255,140,0,0.5)", "rgba(138,43,226,0.5)"]},
              "legend": {"orient": "top-right", "offset": 8, "title": null, "direction": "horizontal", "symbolType": "M-2.33,-0.83H2.33V0.83H-2.33Z M-2.33,0H2.33", "symbolSize": 144, "symbolOffset": 8, "symbolStrokeWidth": 1.3, "symbolOpacity": 1, "labelFont": "DejaVu Sans", "labelFontSize": 13, "labelOffset": 19, "columnPadding": 22, "padding": 5, "strokeColor": "#cccccc", "fillColor": "#ffffff", "cornerRadius": 4}},
            "shape": {"field": "p", "type": "nominal",
              "legend": {"orient": "none", "legendX": 16, "legendY": 8, "title": "σ", "titleOrient": "left", "titleFont": "Liberation Serif", "titleFontStyle": "italic", "titleFontWeight": "normal", "titleFontSize": 18, "titlePadding": 0, "titleBaseline": "middle", "titleAnchor": "middle", "labelFont": "Liberation Serif", "labelFontSize": 11, "labelFontStyle": "italic", "labelBaseline": "top", "labelOffset": -12, "symbolSize": 0, "symbolOpacity": 0, "symbolStrokeWidth": 0, "strokeColor": "#000000", "cornerRadius": 6, "padding": 5, "fillColor": "#ffffff"}}
          }}
      ]
    },
    {
      "width": 421, "height": 149,
      "data": {"name": "dist"},
      "transform": [{"filter": "datum.p === 'tG, tG'"}, {"fold": ["NWA", "STABLE"], "as": ["src", "y"]}],
      "encoding": {
        "x": {"field": "x", "type": "quantitative", "scale": {"domain": [-2.5, 2.5], "nice": false, "zero": false}, "axis": {"values": [-2, -1, 0, 1, 2], "title": "y(H)", "titleFont": "Liberation Serif", "titleFontSize": 13, "titlePadding": 3}},
        "y": {"field": "y", "type": "quantitative", "scale": {"domain": [0, 0.5], "nice": false}, "axis": {"values": [0, 0.1, 0.2, 0.3, 0.4, 0.5], "format": ".1f", "title": "normalized"}},
        "color": {"field": "src", "type": "nominal", "scale": {"domain": ["NWA", "STABLE"], "range": ["#ff8c00", "#8a2be2"]},
          "legend": {"orient": "top-right", "offset": 8, "title": null, "direction": "horizontal", "symbolType": "M-2.33,-0.83H2.33V0.83H-2.33Z M-2.33,0H2.33", "symbolSize": 144, "symbolOffset": 8, "symbolStrokeWidth": 1.3, "symbolOpacity": 1, "labelFont": "DejaVu Sans", "labelFontSize": 13, "labelOffset": 19, "columnPadding": 22, "padding": 5, "strokeColor": "#cccccc", "fillColor": "#ffffff", "cornerRadius": 4}}
      },
      "layer": [
        {"mark": {"type": "line", "interpolate": "step-after", "strokeWidth": 3.5, "opacity": 0.3}},
        {"mark": {"type": "line", "interpolate": "step-after", "strokeWidth": 1.3},
          "encoding": {"strokeDash": {"field": "src", "type": "nominal", "scale": {"domain": ["NWA", "STABLE"], "range": [[1, 0], [4, 2]]}}}},
        {"mark": {"type": "point", "opacity": 0, "filled": false},
          "encoding": {
            "fill": {"field": "src", "type": "nominal", "scale": {"domain": ["NWA", "STABLE"], "range": ["rgba(255,140,0,0.5)", "rgba(138,43,226,0.5)"]},
              "legend": {"orient": "top-right", "offset": 8, "title": null, "direction": "horizontal", "symbolType": "M-2.33,-0.83H2.33V0.83H-2.33Z M-2.33,0H2.33", "symbolSize": 144, "symbolOffset": 8, "symbolStrokeWidth": 1.3, "symbolOpacity": 1, "labelFont": "DejaVu Sans", "labelFontSize": 13, "labelOffset": 19, "columnPadding": 22, "padding": 5, "strokeColor": "#cccccc", "fillColor": "#ffffff", "cornerRadius": 4}},
            "shape": {"field": "p", "type": "nominal",
              "legend": {"orient": "none", "legendX": 16, "legendY": 8, "title": "σ", "titleOrient": "left", "titleFont": "Liberation Serif", "titleFontStyle": "italic", "titleFontWeight": "normal", "titleFontSize": 18, "titlePadding": 0, "titleBaseline": "middle", "titleAnchor": "middle", "labelFont": "Liberation Serif", "labelFontSize": 11, "labelFontStyle": "italic", "labelBaseline": "top", "labelOffset": -12, "symbolSize": 0, "symbolOpacity": 0, "symbolStrokeWidth": 0, "strokeColor": "#000000", "cornerRadius": 6, "padding": 5, "fillColor": "#ffffff"}}
          }}
      ]
    }
  ]
}
